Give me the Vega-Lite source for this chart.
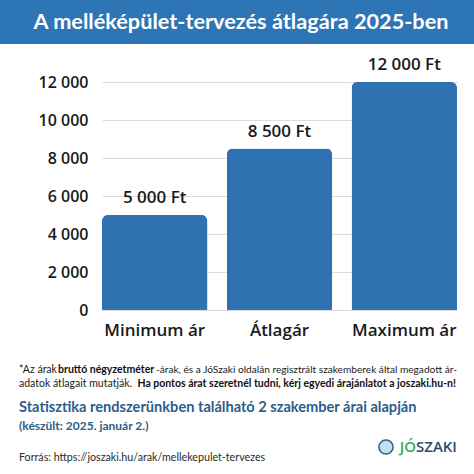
{
  "$schema": "https://vega.github.io/schema/vega-lite/v6.json",
  "padding": 0,
  "spacing": 0,
  "background": "white",
  "config": {
    "view": {"stroke": null},
    "font": "Open Sans",
    "locale": {"number": {"decimal": ",", "thousands": " ", "grouping": [3], "currency": ["", " Ft"]}}
  },
  "vconcat": [
    {
      "width": 372,
      "height": 44,
      "layer": [
        {
          "data": {"values": [{"t": "banner"}]},
          "mark": {"type": "rect", "color": "#2e75b6", "clip": false},
          "encoding": {
            "x": {"datum": 0, "type": "quantitative", "scale": {"domain": [0, 474], "range": [-102, 372], "nice": false, "zero": false}, "axis": null},
            "x2": {"datum": 474},
            "y": {"datum": 0, "type": "quantitative", "scale": {"domain": [0, 44], "range": [0, 44], "nice": false, "zero": false}, "axis": null},
            "y2": {"datum": 44}
          }
        },
        {
          "data": {"values": [{"t": "A melléképület-tervezés átlagára 2025-ben"}]},
          "mark": {"type": "text", "color": "white", "fontSize": 21.7, "fontWeight": "bold", "font": "Lato", "baseline": "middle", "align": "center"},
          "encoding": {
            "x": {"datum": 241, "type": "quantitative"},
            "y": {"datum": 22, "type": "quantitative"},
            "text": {"field": "t"}
          }
        }
      ]
    },
    {
      "width": 355,
      "height": 266,
      "data": {"values": [
        {"kategoria": "Minimum ár", "ar": 5000},
        {"kategoria": "Átlagár", "ar": 8500},
        {"kategoria": "Maximum ár", "ar": 12000}
      ]},
      "encoding": {
        "x": {"field": "kategoria", "type": "nominal", "sort": null,
          "scale": {"paddingInner": 0.155, "paddingOuter": 0},
          "axis": {"title": null, "labelAngle": 0, "labelFontSize": 17, "labelFontWeight": 600, "labelColor": "#1a1a1a", "labelPadding": 12, "ticks": false, "domain": false, "minExtent": 30, "maxExtent": 30}},
        "y": {"field": "ar", "type": "quantitative",
          "scale": {"domain": [0, 14000], "nice": false},
          "axis": {"title": null, "values": [0, 2000, 4000, 6000, 8000, 10000, 12000], "format": ",.0f", "labelFontSize": 16, "labelFontWeight": 600, "labelColor": "#1a1a1a", "labelPadding": 14, "ticks": false, "domain": false, "gridColor": "#dcdcdc", "minExtent": 102, "maxExtent": 102}}
      },
      "layer": [
        {"mark": {"type": "bar", "color": "#2e72b1", "cornerRadiusTopLeft": 6, "cornerRadiusTopRight": 6}},
        {"mark": {"type": "text", "dy": -8, "baseline": "bottom", "fontSize": 17, "fontWeight": 600, "color": "#1a1a1a"},
         "encoding": {"text": {"field": "ar", "type": "quantitative", "format": "$,.0f"}}}
      ]
    },
    {
      "width": 372,
      "height": 134,
      "encoding": {
        "x": {"type": "quantitative", "scale": {"domain": [0, 474], "range": [-102, 372], "nice": false, "zero": false}, "axis": null},
        "y": {"type": "quantitative", "scale": {"domain": [0, 134], "range": [0, 134], "nice": false, "zero": false}, "axis": null}
      },
      "layer": [
        {
          "data": {"values": [{"t": "*Az árak"}]},
          "mark": {"type": "text", "align": "left", "baseline": "middle", "fontSize": 10.5, "font": "Lato", "color": "#1a1a1a"},
          "encoding": {"x": {"datum": 19}, "y": {"datum": 30}, "text": {"field": "t"}}
        },
        {
          "data": {"values": [{"t": "bruttó négyzetméter"}]},
          "mark": {"type": "text", "align": "left", "baseline": "middle", "fontSize": 10.5, "font": "Lato", "fontWeight": "bold", "color": "#111111"},
          "encoding": {"x": {"datum": 58}, "y": {"datum": 30}, "text": {"field": "t"}}
        },
        {
          "data": {"values": [{"t": "-árak, és a JóSzaki oldalán regisztrált szakemberek által megadott ár-"}]},
          "mark": {"type": "text", "align": "right", "baseline": "middle", "fontSize": 10.15, "font": "Lato", "color": "#1a1a1a"},
          "encoding": {"x": {"datum": 457}, "y": {"datum": 30}, "text": {"field": "t"}}
        },
        {
          "data": {"values": [{"t": "adatok átlagait mutatják."}]},
          "mark": {"type": "text", "align": "left", "baseline": "middle", "fontSize": 10.5, "font": "Lato", "color": "#1a1a1a"},
          "encoding": {"x": {"datum": 19}, "y": {"datum": 44}, "text": {"field": "t"}}
        },
        {
          "data": {"values": [{"t": "Ha pontos árat szeretnél tudni, kérj egyedi árajánlatot a joszaki.hu-n!"}]},
          "mark": {"type": "text", "align": "right", "baseline": "middle", "fontSize": 10.5, "font": "Lato", "fontWeight": "bold", "color": "#111111"},
          "encoding": {"x": {"datum": 456}, "y": {"datum": 44}, "text": {"field": "t"}}
        },
        {
          "data": {"values": [{"t": "Statisztika rendszerünkben található 2 szakember árai alapján"}]},
          "mark": {"type": "text", "align": "left", "baseline": "middle", "fontSize": 14.6, "fontWeight": "bold", "font": "Lato", "color": "#2d5d8a"},
          "encoding": {"x": {"datum": 19}, "y": {"datum": 68}, "text": {"field": "t"}}
        },
        {
          "data": {"values": [{"t": "(készült: 2025. január 2.)"}]},
          "mark": {"type": "text", "align": "left", "baseline": "middle", "fontSize": 12, "fontWeight": "bold", "font": "Lato", "color": "#2d5d8a"},
          "encoding": {"x": {"datum": 19}, "y": {"datum": 86}, "text": {"field": "t"}}
        },
        {
          "data": {"values": [{"t": "Forrás: https://joszaki.hu/arak/mellekepulet-tervezes"}]},
          "mark": {"type": "text", "align": "left", "baseline": "middle", "fontSize": 10.7, "font": "Lato", "color": "#2a2a2a"},
          "encoding": {"x": {"datum": 19}, "y": {"datum": 118}, "text": {"field": "t"}}
        },
        {
          "data": {"values": [{"t": "logo"}]},
          "mark": {"type": "point", "shape": "circle", "filled": true, "size": 200, "color": "#bfe0ee", "stroke": "#2d5d8a", "strokeWidth": 1.5, "opacity": 1},
          "encoding": {"x": {"datum": 386}, "y": {"datum": 107}}
        },
        {
          "data": {"values": [{"t": "JÓ"}]},
          "mark": {"type": "text", "align": "right", "baseline": "middle", "fontSize": 15, "fontWeight": 600, "color": "#3aa657"},
          "encoding": {"x": {"datum": 416}, "y": {"datum": 107}, "text": {"field": "t"}}
        },
        {
          "data": {"values": [{"t": "SZAKI"}]},
          "mark": {"type": "text", "align": "left", "baseline": "middle", "fontSize": 15, "fontWeight": 600, "color": "#2d4a6e"},
          "encoding": {"x": {"datum": 416}, "y": {"datum": 107}, "text": {"field": "t"}}
        }
      ]
    }
  ]
}
